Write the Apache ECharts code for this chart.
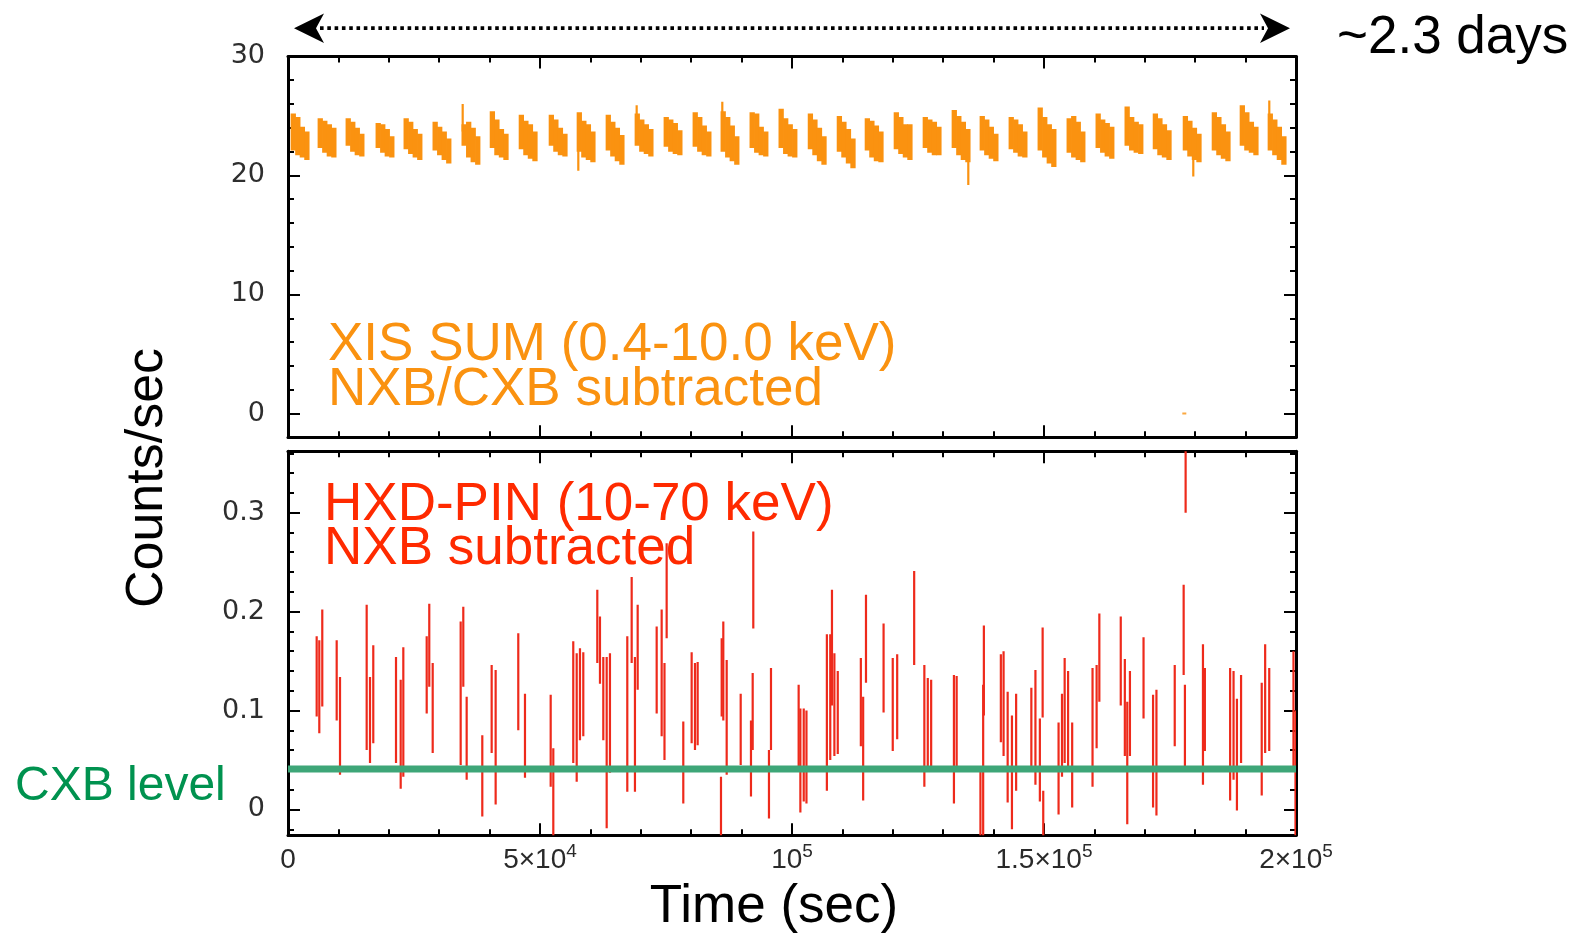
<!DOCTYPE html>
<html><head><meta charset="utf-8">
<script src="https://cdn.jsdelivr.net/npm/echarts@6/dist/echarts.min.js"></script>
<style>html,body{margin:0;padding:0;background:#fff;}#c{width:1579px;height:936px;}</style>
</head><body><div id="c"></div>
<script>
// ---------------- DATA ----------------
// X axis (time, sec)
const xTickValues = [0, 50000, 100000, 150000, 200000];
const xTickBase   = ['0', '5×10', '10', '1.5×10', '2×10'];
const xTickExp    = ['', '4', '5', '5', '5'];
// Y axis ticks
const xisTickValues = [0, 10, 20, 30];
const xisTickLabels = ['0', '10', '20', '30'];
const pinTickValues = [0, 0.1, 0.2, 0.3];
const pinTickLabels = ['0', '0.1', '0.2', '0.3'];

// XIS SUM light curve: [time, low, high] (counts/sec), one bar per bin
const xisBars = [
 [1050,22.1,25.2],[1950,21.7,24.9],[2850,21.5,24.1],[3750,21.3,23.7],
 [6400,22.3,24.8],[7300,21.9,24.6],[8200,21.6,24.3],[9100,21.5,24.0],
 [11950,22.5,24.8],[12850,22.0,24.5],[13750,21.7,24.0],[14650,21.6,23.5],
 [17900,22.3,24.4],[18800,21.9,24.3],[19700,21.6,23.9],[20600,21.5,23.3],
 [23450,22.2,24.8],[24350,21.8,24.5],[25250,21.5,23.9],[26150,21.3,23.5],
 [29200,22.1,24.5],[30100,21.7,24.1],[31000,21.3,23.7],[31900,21.0,23.1],
 [34950,22.5,24.3],[35850,21.5,24.5],[36750,21.1,24.0],[37650,20.9,23.3],
 [40550,22.3,25.4],[41450,21.7,24.7],[42350,21.5,23.9],[43250,21.3,23.5],
 [46300,22.2,25.1],[47200,21.7,24.6],[48100,21.4,24.3],[49000,21.2,23.7],
 [52250,22.5,25.1],[53150,22.0,24.7],[54050,21.7,24.0],[54950,21.6,23.5],
 [57800,22.0,25.3],[58700,21.5,24.6],[59600,21.3,24.3],[60500,21.1,23.7],
 [63550,22.1,25.1],[64450,21.6,24.5],[65350,21.2,24.0],[66250,20.9,23.4],
 [69300,22.5,25.2],[70200,22.0,24.7],[71100,21.8,24.3],[72000,21.6,23.9],
 [75050,22.4,24.9],[75950,22.0,24.7],[76850,21.8,24.4],[77750,21.7,23.8],
 [80800,22.4,25.3],[81700,22.0,24.9],[82600,21.7,24.2],[83500,21.6,23.7],
 [86350,22.0,25.4],[87250,21.5,24.9],[88150,21.2,24.2],[89050,20.9,23.3],
 [92100,22.3,25.3],[93000,21.9,25.2],[93900,21.7,24.1],[94800,21.6,23.7],
 [97850,22.3,25.6],[98750,21.8,24.8],[99650,21.6,24.3],[100550,21.5,23.9],
 [103650,22.2,25.2],[104550,21.7,24.7],[105450,21.2,24.0],[106350,20.9,23.3],
 [109400,22.0,25.0],[110300,21.5,24.5],[111200,21.0,23.9],[112100,20.6,23.1],
 [114950,22.1,24.8],[115850,21.5,24.6],[116750,21.2,24.2],[117650,21.1,23.7],
 [120700,22.2,25.3],[121600,21.8,24.9],[122500,21.5,24.3],[123400,21.3,24.3],
 [126450,22.3,24.9],[127350,21.9,24.7],[128250,21.7,24.5],[129150,21.7,24.1],
 [132200,22.3,25.5],[133100,21.7,25.0],[134000,21.3,24.5],[134900,21.1,23.9],
 [137750,22.1,25.0],[138650,21.7,24.7],[139550,21.4,24.1],[140450,21.2,23.5],
 [143500,22.2,24.9],[144400,21.9,24.7],[145300,21.6,24.3],[146200,21.5,23.7],
 [149250,22.1,25.7],[150150,21.5,24.9],[151050,21.0,24.3],[151950,20.7,23.9],
 [155000,21.9,24.8],[155900,21.5,25.0],[156800,21.3,24.5],[157700,21.1,23.7],
 [160750,22.3,25.2],[161650,21.9,24.7],[162550,21.6,24.4],[163450,21.4,24.1],
 [166500,22.5,25.8],[167400,22.1,24.9],[168300,21.9,24.5],[169200,21.8,24.3],
 [172100,22.2,25.2],[173000,21.7,24.8],[173900,21.5,24.3],[174800,21.3,23.8],
 [178050,22.1,25.0],[178950,21.6,24.6],[179850,21.3,24.0],[180750,21.1,23.5],
 [183800,22.1,25.3],[184700,21.7,24.9],[185600,21.4,24.3],[186500,21.2,23.7],
 [189350,22.5,25.9],[190250,22.1,25.3],[191150,21.9,24.5],[192050,21.7,24.1],
 [194900,22.1,25.2],[195800,21.7,24.7],[196700,21.3,24.1],[197600,20.9,23.3]
];
// XIS single-bin excursions: [time, low, high]
const xisSpikes = [
 [34660,23.7,26.0],[57600,20.4,22.2],[69180,24.3,25.9],[86170,24.5,26.2],
 [134980,19.2,21.3],[179620,19.9,21.7],[194700,24.2,26.3]
];
// isolated XIS point near zero
const xisDot = [[177840, 0.0]];

// HXD-PIN light curve: [time, low, high] error bars (counts/sec)
const pinBars = [
 [5690,0.094,0.175],[6210,0.077,0.171],[6800,0.104,0.202],
 [9660,0.090,0.171],[10320,0.035,0.134],
 [15610,0.060,0.207],[16270,0.047,0.134],[16920,0.067,0.166],
 [21430,0.047,0.154],[22360,0.021,0.131],[22880,0.033,0.164],
 [27520,0.097,0.175],[28030,0.124,0.208],[28710,0.057,0.148],
 [34260,0.045,0.190],[34780,0.124,0.205],[35450,0.030,0.114],
 [38550,-0.007,0.075],
 [40410,0.057,0.146],[41200,0.005,0.141],
 [45690,0.080,0.178],[47020,0.032,0.117],
 [52120,0.023,0.116],[52640,-0.03,0.062],
 [56600,0.047,0.170],[57280,0.028,0.158],[57930,0.070,0.163],[58590,0.074,0.159],
 [61370,0.148,0.222],[61900,0.127,0.195],[62560,0.070,0.154],[63230,-0.019,0.154],[63880,0.037,0.158],
 [67320,0.018,0.175],[68190,0.148,0.235],[68840,0.018,0.154],[69380,0.121,0.207],
 [73150,0.097,0.185],[74140,0.074,0.202],[74700,0.050,0.148],[75130,0.173,0.269],
 [78430,0.006,0.089],
 [80090,0.067,0.159],[80750,0.060,0.148],[81280,0.065,0.149],
 [85910,-0.03,0.033],[86050,0.094,0.173],[86370,0.090,0.190],[87040,0.035,0.151],
 [89820,0.045,0.117],
 [91860,0.013,0.090],[92200,0.060,0.138],[92320,0.183,0.281],
 [95430,-0.009,0.060],[95830,0.060,0.143],
 [101320,0.040,0.126],[101660,-0.003,0.102],[102330,0.008,0.102],[102870,0.006,0.100],
 [106920,0.019,0.177],[107590,0.050,0.177],[107930,0.105,0.222],[108410,0.054,0.158],[109080,0.056,0.140],
 [113660,0.064,0.153],[114120,0.009,0.114],[114680,0.128,0.217],
 [118170,0.098,0.188],[119990,0.059,0.153],[120870,0.071,0.157],
 [124240,0.146,0.241],
 [126260,0.023,0.146],[126940,0.044,0.133],[127610,0.044,0.131],
 [132130,0.006,0.136],[132670,0.040,0.135],
 [137390,-0.03,0.044],[137930,-0.03,0.126],[138070,0.095,0.186],
 [141440,0.068,0.157],[141980,0.054,0.160],[142790,0.007,0.119],[143640,-0.020,0.095],[144470,0.019,0.117],
 [147490,0.040,0.123],[148300,0.025,0.141],[149180,0.008,0.092],[149730,0.093,0.184],[149850,-0.03,0.019],
 [152890,-0.005,0.088],[153570,0.033,0.117],[154100,0.047,0.153],[154780,0.040,0.140],[155590,0.002,0.088],
 [159630,0.023,0.143],[160440,0.062,0.146],[160980,0.109,0.198],
 [165230,0.105,0.195],[166040,0.054,0.152],[166520,-0.015,0.109],[167050,0.054,0.140],
 [169750,0.092,0.174],
 [171640,0.002,0.116],[172310,-0.006,0.121],
 [175940,0.064,0.146],
 [177710,0.136,0.227],[177960,0.042,0.126],[178100,0.300,0.365],
 [181540,0.025,0.167],[181920,0.059,0.143],
 [186930,0.009,0.143],[187610,0.030,0.140],[188280,-0.001,0.112],[189100,0.047,0.136],
 [193200,0.014,0.128],[193880,0.057,0.167],[194690,0.059,0.143],
 [199500,0.040,0.160],[199900,-0.03,0.100]
];
// CXB level (counts/sec)
const cxbLevel = 0.041;

// ---------------- STYLE ----------------
const ORANGE = '#fa9210', RED = '#ee2a1b', GREEN_LINE = '#3ea678', GREEN_TEXT = '#00924f';
const XIS_BAR_WIDTH = 1050;   // seconds drawn per bin (slight overlap so bins merge)
const SANS = 'Liberation Sans, Arial, Helvetica, sans-serif';
const TICKFONT = 'DejaVu Sans, sans-serif';

const chart = echarts.init(document.getElementById('c'), null, {renderer: 'canvas'});

function pick(values, labels) {
  return function (v) {
    for (let i = 0; i < values.length; i++) if (Math.abs(values[i] - v) < 1e-9) return labels[i];
    return '';
  };
}
const lineStyleAxis = {color: '#000', width: 3};
const tickStyle = {color: '#000', width: 2};
function xAxisCfg(grid, pos, labels) {
  return {
    type: 'value', gridIndex: grid, position: pos, min: 0, max: 200000, interval: 50000,
    axisLine: {show: true, onZero: false, lineStyle: lineStyleAxis},
    axisTick: {show: true, inside: true, length: 12, lineStyle: tickStyle},
    minorTick: {show: true, splitNumber: 5, length: 6, lineStyle: tickStyle},
    splitLine: {show: false}, minorSplitLine: {show: false},
    axisLabel: labels ? {
      show: true, margin: 7,
      formatter: function (v) {
        for (let i = 0; i < xTickValues.length; i++) {
          if (Math.abs(xTickValues[i] - v) < 1e-6) {
            return xTickExp[i] ? '{b|' + xTickBase[i] + '}{e|' + xTickExp[i] + '}' : '{b|' + xTickBase[i] + '}';
          }
        }
        return '';
      },
      rich: {
        b: {fontSize: 28, fontFamily: SANS, color: '#2a2a2a', lineHeight: 32, verticalAlign: 'bottom'},
        e: {fontSize: 19, fontFamily: SANS, color: '#2a2a2a', verticalAlign: 'top'}
      }
    } : {show: false}
  };
}
function yAxisCfg(grid, pos, min, max, step, values, labels, showLabels) {
  return {
    type: 'value', gridIndex: grid, position: pos, min: min, max: max,
    minInterval: step, maxInterval: step,
    axisLine: {show: true, onZero: false, lineStyle: lineStyleAxis},
    axisTick: {show: true, inside: true, length: 12, lineStyle: tickStyle},
    minorTick: {show: true, splitNumber: 5, length: 6, lineStyle: tickStyle},
    splitLine: {show: false}, minorSplitLine: {show: false},
    axisLabel: showLabels ? {
      show: true, margin: 23, fontSize: 27, fontFamily: TICKFONT, color: '#2e2e2e',
      showMinLabel: false, formatter: pick(values, labels)
    } : {show: false}
  };
}

function rectBar(params, api) {
  const t = api.value(0), lo = api.value(1), hi = api.value(2);
  const p1 = api.coord([t - XIS_BAR_WIDTH / 2, hi]);
  const p2 = api.coord([t + XIS_BAR_WIDTH / 2, lo]);
  return {type: 'rect', shape: {x: p1[0], y: p1[1], width: p2[0] - p1[0], height: p2[1] - p1[1]},
          style: {fill: ORANGE}};
}
function vLine(color, width) {
  return function (params, api) {
    const t = api.value(0), lo = api.value(1), hi = api.value(2);
    const p1 = api.coord([t, lo]), p2 = api.coord([t, hi]);
    return {type: 'line', shape: {x1: p1[0], y1: p1[1], x2: p2[0], y2: p2[1]},
            style: {stroke: color, lineWidth: width}};
  };
}

const option = {
  animation: false,
  backgroundColor: '#fff',
  textStyle: {fontFamily: SANS},
  grid: [
    {left: 288, width: 1008, top: 56.4, height: 380.9, outerBoundsMode: 'none', containLabel: false},
    {left: 288, width: 1008, top: 451.3, height: 383.9, outerBoundsMode: 'none', containLabel: false}
  ],
  xAxis: [
    xAxisCfg(0, 'bottom', false), xAxisCfg(0, 'top', false),
    xAxisCfg(1, 'bottom', true), xAxisCfg(1, 'top', false)
  ],
  yAxis: [
    yAxisCfg(0, 'left', -2, 30, 10, xisTickValues, xisTickLabels, true),
    yAxisCfg(0, 'right', -2, 30, 10, xisTickValues, xisTickLabels, false),
    yAxisCfg(1, 'left', -0.026, 0.362, 0.1, pinTickValues, pinTickLabels, true),
    yAxisCfg(1, 'right', -0.026, 0.362, 0.1, pinTickValues, pinTickLabels, false)
  ],
  series: [
    {type: 'custom', name: 'XIS', xAxisIndex: 0, yAxisIndex: 0, clip: true, data: xisBars, renderItem: rectBar, z: 3},
    {type: 'custom', name: 'XIS spikes', xAxisIndex: 0, yAxisIndex: 0, clip: true, data: xisSpikes, renderItem: vLine(ORANGE, 2.2), z: 3},
    {type: 'scatter', name: 'XIS dot', xAxisIndex: 0, yAxisIndex: 0, data: xisDot, symbol: 'rect', symbolSize: [4, 2], itemStyle: {color: ORANGE}, z: 3},
    {type: 'custom', name: 'PIN', xAxisIndex: 2, yAxisIndex: 2, clip: true, data: pinBars, renderItem: vLine(RED, 2.2), z: 3},
    {type: 'line', name: 'CXB', xAxisIndex: 2, yAxisIndex: 2, data: [[0, cxbLevel], [200000, cxbLevel]],
     symbol: 'none', lineStyle: {color: GREEN_LINE, width: 7}, z: 5, silent: true}
  ],
  graphic: [
    {type: 'line', shape: {x1: 320, y1: 28.2, x2: 1264, y2: 28.2},
     style: {stroke: '#000', lineWidth: 3.8, lineDash: [3.6, 3.7]}},
    {type: 'polygon', shape: {points: [[294, 28.2], [324, 13.5], [316, 28.2], [324, 43]]}, style: {fill: '#000'}},
    {type: 'polygon', shape: {points: [[1290, 28.2], [1260, 13.5], [1268, 28.2], [1260, 43]]}, style: {fill: '#000'}},
    {type: 'text', x: 1337, y: 38.5, style: {text: '~2.3 days', fontSize: 53, fontFamily: SANS, fill: '#000', textAlign: 'left', textVerticalAlign: 'middle'}},
    {type: 'text', x: 328, y: 345, style: {text: 'XIS SUM (0.4-10.0 keV)', fontSize: 53, fontFamily: SANS, fill: ORANGE, textAlign: 'left', textVerticalAlign: 'middle'}},
    {type: 'text', x: 328, y: 390, style: {text: 'NXB/CXB subtracted', fontSize: 53, fontFamily: SANS, fill: ORANGE, textAlign: 'left', textVerticalAlign: 'middle'}},
    {type: 'text', x: 324, y: 505, style: {text: 'HXD-PIN (10-70 keV)', fontSize: 53, fontFamily: SANS, fill: '#ff2a00', textAlign: 'left', textVerticalAlign: 'middle'}},
    {type: 'text', x: 324, y: 549, style: {text: 'NXB subtracted', fontSize: 53, fontFamily: SANS, fill: '#ff2a00', textAlign: 'left', textVerticalAlign: 'middle'}},
    {type: 'text', x: 15, y: 787, style: {text: 'CXB level', fontSize: 48, fontFamily: SANS, fill: GREEN_TEXT, textAlign: 'left', textVerticalAlign: 'middle'}},
    {type: 'text', x: 148, y: 478, rotation: Math.PI / 2, style: {text: 'Counts/sec', fontSize: 52, fontFamily: SANS, fill: '#000', textAlign: 'center', textVerticalAlign: 'middle'}},
    {type: 'text', x: 774, y: 907, style: {text: 'Time (sec)', fontSize: 53, fontFamily: SANS, fill: '#000', textAlign: 'center', textVerticalAlign: 'middle'}}
  ]
};
chart.setOption(option);
</script>
</body></html>
